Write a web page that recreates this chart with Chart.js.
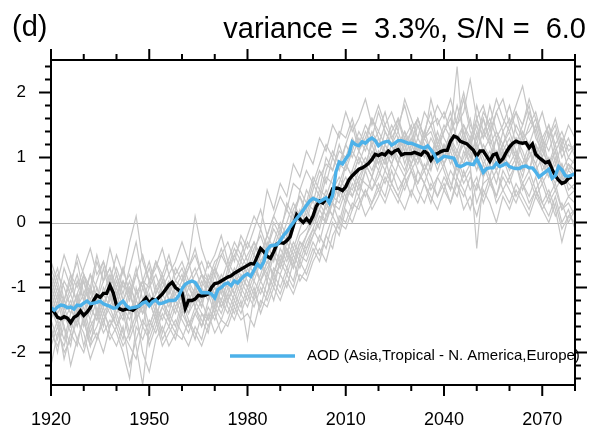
<!DOCTYPE html>
<html>
<head>
<meta charset="utf-8">
<script src="https://cdn.jsdelivr.net/npm/chart.js@4.4.1/dist/chart.umd.min.js"></script>
<style>
html, body { margin: 0; padding: 0; background: #fff; }
#wrap { width: 599px; height: 426px; }
</style>
</head>
<body>
<div id="wrap"><canvas id="chart"></canvas></div>
<script>
// 时间轴：逐年 1920-2080，集合成员每两年一个值
const startYear = 1920;
const endYear = 2080;
const xTickLabels = [1920, 1950, 1980, 2010, 2040, 2070];
const yTickLabels = [-2, -1, 0, 1, 2];

const titleLeft = '(d)';
const titleRight = 'variance =  3.3%, S/N =  6.0';
const legendLabel = 'AOD (Asia,Tropical - N. America,Europe)';

// 黑线（集合平均），1920-2079
const meanLine = [
  -1.32,-1.38,-1.46,-1.48,-1.45,-1.47,-1.54,-1.46,-1.43,-1.36,
  -1.43,-1.38,-1.31,-1.20,-1.12,-1.15,-1.09,-1.09,-0.97,-1.08,
  -1.28,-1.33,-1.35,-1.33,-1.33,-1.35,-1.31,-1.28,-1.22,-1.16,
  -1.24,-1.18,-1.20,-1.15,-1.10,-1.03,-0.96,-0.92,-1.00,-1.04,
  -1.08,-1.32,-1.20,-1.20,-1.18,-1.12,-1.13,-1.12,-1.10,-1.00,
  -0.94,-0.93,-0.90,-0.87,-0.84,-0.82,-0.78,-0.75,-0.72,-0.69,
  -0.66,-0.63,-0.64,-0.52,-0.40,-0.45,-0.52,-0.55,-0.45,-0.33,
  -0.31,-0.32,-0.28,-0.22,-0.05,0.12,0.05,0.00,0.06,0.00,
  0.10,0.25,0.33,0.30,0.36,0.38,0.52,0.53,0.52,0.49,
  0.55,0.66,0.72,0.77,0.82,0.84,0.87,0.91,0.97,1.05,
  1.03,1.06,1.04,1.10,1.06,1.10,1.12,1.04,1.06,1.06,
  1.06,1.08,1.06,1.04,1.10,1.06,0.96,1.04,1.06,1.09,
  1.11,1.11,1.25,1.33,1.31,1.25,1.23,1.21,1.16,1.11,
  1.02,1.10,1.10,1.02,0.94,1.04,1.06,0.93,0.98,1.08,
  1.16,1.22,1.25,1.23,1.22,1.23,1.15,1.21,1.05,1.00,
  0.96,0.92,0.94,0.82,0.72,0.65,0.60,0.62,0.68,0.70
];

// 蓝线（AOD），1920-2080
const aodLine = [
  -1.31,-1.35,-1.30,-1.27,-1.28,-1.31,-1.30,-1.33,-1.27,-1.28,
  -1.24,-1.21,-1.25,-1.24,-1.23,-1.21,-1.25,-1.27,-1.29,-1.32,
  -1.31,-1.25,-1.21,-1.28,-1.32,-1.31,-1.30,-1.28,-1.24,-1.22,
  -1.28,-1.22,-1.19,-1.25,-1.24,-1.22,-1.20,-1.20,-1.19,-1.13,
  -1.02,-0.95,-0.92,-0.90,-0.92,-1.00,-1.08,-1.08,-1.08,-1.10,
  -1.16,-1.03,-1.00,-0.95,-0.93,-0.97,-0.90,-0.93,-0.87,-0.82,
  -0.79,-0.83,-0.73,-0.64,-0.69,-0.60,-0.42,-0.36,-0.35,-0.34,
  -0.28,-0.20,-0.14,-0.07,0.00,0.06,0.12,0.19,0.26,0.33,
  0.37,0.35,0.32,0.35,0.38,0.30,0.42,0.78,0.93,0.90,
  0.98,1.05,1.24,1.20,1.18,1.24,1.22,1.27,1.30,1.26,
  1.18,1.22,1.24,1.25,1.19,1.22,1.26,1.26,1.24,1.22,
  1.22,1.20,1.18,1.16,1.14,1.18,1.12,1.05,0.94,0.98,
  1.02,1.01,1.00,0.99,0.88,0.86,0.88,0.91,0.90,0.89,
  0.98,0.88,0.77,0.83,0.84,0.84,0.91,0.86,0.88,0.91,
  0.86,0.84,0.83,0.83,0.86,0.87,0.84,0.84,0.78,0.70,
  0.74,0.78,0.82,0.68,0.72,0.86,0.81,0.72,0.71,0.73,
  0.75
];

// 灰线（集合成员），1920-2080 每两年
const m01 = [-0.9,-1.2,-0.7,-1.0,-0.5,-0.8,-1.1,-0.6,-0.9,-0.4, -0.8,-1.1,-0.7,-0.3,-0.9,-1.0,-0.6,-0.8,-0.5,-0.9, -1.0,-0.7,-0.4,-0.8,-0.9,-0.6,-0.5,-0.3,-0.6,-0.2, -0.4,-0.1,0.2,-0.2,0.1,0.4,0.2,0.6,0.5,0.8, 0.6,0.9,1.2,1.0,1.4,1.3,1.6,1.2,1.5,1.3, 1.7,1.4,1.2,1.6,1.3,1.5,1.1,1.4,1.7,1.2, 1.5,1.3,1.8,1.4,1.1,1.6,1.3,1.5,1.0,1.4, 1.6,1.2,1.5,1.8,1.3,1.1,1.4,0.9,1.2,0.8, 1.0];
const m02 = [-1.8,-1.5,-2.1,-1.7,-1.9,-1.4,-1.8,-1.6,-1.3,-1.7, -1.9,-1.6,-2.2,-1.8,-1.5,-1.7,-1.4,-1.8,-1.6,-1.3, -1.5,-1.7,-1.4,-1.6,-1.3,-1.5,-1.2,-1.4,-1.1,-1.3, -1.0,-1.2,-0.9,-1.1,-0.7,-0.8,-0.5,-0.7,-0.3,-0.4, -0.2,0.1,0.0,0.3,0.2,0.5,0.4,0.7,0.6,0.5, 0.8,0.6,0.9,0.7,0.5,0.8,0.6,0.9,0.7,0.4, 0.7,0.5,0.9,0.6,0.8,0.3,0.6,0.7,0.4,0.8, 0.6,0.9,0.5,0.7,0.4,0.6,0.3,0.5,0.2,0.4, 0.3];
const m03 = [-1.1,-1.4,-1.2,-0.8,-1.3,-1.5,-1.0,-1.2,-0.7,-1.1, -1.4,-1.2,-0.9,-1.3,-1.6,-1.1,-1.3,-0.9,-1.2,-1.0, -0.8,-1.2,-1.0,-1.3,-0.9,-1.1,-0.8,-1.0,-0.7,-0.9, -0.6,-0.8,-0.5,-0.2,-0.4,-0.1,-0.3,0.1,0.0,0.3, 0.2,0.5,0.4,0.7,0.9,0.8,1.1,0.9,1.2,1.0, 1.3,1.1,0.9,1.2,1.4,1.0,1.3,1.1,0.8,1.2, 1.0,1.3,1.1,0.9,1.2,1.5,1.1,0.9,1.3,1.0, 1.2,0.9,1.3,1.1,0.8,1.0,0.7,0.9,0.6,0.8, 0.7];
const m04 = [-1.5,-1.2,-1.6,-1.9,-1.3,-1.1,-1.4,-1.0,-1.3,-0.9, -1.2,-0.7,-1.1,-1.4,-1.0,-1.3,-1.1,-0.8,-1.2,-1.4, -1.1,-0.9,-1.3,-1.0,-1.2,-0.8,-1.1,-0.7,-0.9,-0.6, -0.8,-0.5,-0.7,-0.3,-0.6,-0.2,-0.5,-0.1,0.2,0.0, 0.4,0.3,0.7,0.6,0.4,0.9,0.7,1.0,0.8,1.3, 1.0,1.4,1.2,0.9,1.3,1.1,1.5,1.2,1.0,1.4, 1.1,1.4,2.4,1.2,1.0,1.3,1.6,1.2,1.4,1.1, 1.3,1.0,1.4,1.2,1.5,1.1,0.9,1.2,0.8,1.0, 0.9];
const m05 = [-2.2,-1.7,-1.9,-1.5,-1.8,-2.0,-1.6,-1.4,-1.7,-1.5, -1.7,-2.0,-2.4,-1.6,-1.8,-1.5,-1.7,-1.4,-1.6,-1.8, -1.4,-1.6,-1.3,-1.5,-1.7,-1.2,-1.4,-1.1,-1.3,-1.0, -1.2,-0.9,-1.1,-0.8,-1.0,-0.6,-0.8,-0.5,-0.7,-0.4, -0.1,-0.3,0.1,0.3,0.0,0.4,0.2,0.6,0.4,0.7, 0.5,0.8,0.6,0.4,0.7,0.9,0.6,0.8,0.5,0.7, 0.9,0.6,0.4,0.8,0.5,0.7,0.3,0.6,0.8,0.5, 0.7,0.4,0.6,0.3,0.5,0.2,0.4,0.1,0.3,0.0, 0.2];
const m06 = [-0.6,-0.9,-0.5,-0.8,-1.0,-0.7,-0.4,-0.8,-0.6,-0.9, -0.5,-0.8,-0.3,0.1,-0.6,-0.9,-0.7,-0.4,-0.8,-0.6, -0.3,-0.6,0.1,-0.4,-0.7,-0.5,-0.2,-0.6,-0.3,-0.5, -0.2,0.1,-0.1,0.5,0.2,0.6,0.4,0.9,0.7,1.1, 0.9,1.3,1.1,1.5,1.3,1.7,1.4,1.6,1.9,1.5, 1.8,1.5,1.7,1.4,1.9,1.6,1.3,1.7,1.5,1.8, 1.6,1.9,1.5,1.7,2.2,1.6,1.8,1.4,1.7,1.9, 1.5,1.8,2.1,1.6,1.4,1.7,1.3,1.6,1.2,1.5, 1.3];
const m07 = [-1.3,-1.6,-1.4,-1.2,-1.5,-1.3,-1.7,-1.4,-1.1,-1.3, -1.0,-1.3,-1.5,-1.2,-1.4,-1.1,-1.4,-1.2,-1.5,-1.2, -1.4,-1.1,-1.3,-1.6,-1.2,-1.0,-1.3,-1.1,-0.8,-1.0, -0.7,-0.9,-0.6,-0.8,-0.4,-0.6,-0.2,-0.4,-0.1,0.2, 0.0,0.2,0.5,0.3,0.6,0.9,0.7,1.0,0.8,1.1, 0.9,1.2,1.0,1.3,1.1,0.8,1.0,1.3,1.1,0.9, 1.2,1.0,0.7,1.1,0.9,1.2,1.0,0.7,1.1,0.9, 1.1,1.3,1.0,0.8,1.1,0.9,0.7,1.0,0.6,0.9, 0.8];
const m08 = [-0.8,-1.1,-1.3,-1.0,-1.2,-0.9,-1.3,-1.1,-1.4,-1.2, -0.9,-1.2,-1.0,-1.5,-1.3,-1.0,-0.8,-1.1,-0.9,-1.2, -1.0,-1.3,-1.1,-0.8,-1.0,-1.3,-0.9,-1.2,-1.0,-0.7, -0.9,-1.1,-0.8,-0.5,-0.9,-0.6,-0.4,-0.7,-0.4,-0.2, 0.1,-0.1,0.3,0.1,0.5,0.3,0.8,0.6,0.9,0.7, 1.0,0.8,1.1,0.9,1.2,0.9,1.1,0.8,1.0,1.2, 0.9,1.1,0.8,1.0,1.3,0.9,0.7,1.0,0.8,1.1, 0.8,1.0,0.7,1.1,0.9,0.6,0.8,0.5,0.7,0.4, 0.5];
const m09 = [-1.6,-2.0,-1.4,-1.7,-1.2,-1.5,-1.9,-1.3,-1.6,-1.1, -1.5,-1.8,-1.3,-1.9,-2.5,-1.6,-1.3,-1.7,-1.4,-1.6, -1.2,-1.5,-1.8,-1.4,-1.6,-1.3,-1.5,-1.2,-1.4,-1.1, -1.3,-1.0,-1.4,-1.1,-0.8,-1.0,-0.7,-0.9,-0.5,-0.6, -0.3,-0.5,-0.2,0.1,-0.1,0.3,0.6,0.4,0.8,0.5, 0.7,1.0,0.6,0.9,0.7,1.1,0.8,0.6,0.9,1.1, 0.8,0.5,1.0,0.7,0.9,-0.4,0.7,0.9,0.6,1.0, 0.7,0.9,0.6,0.8,0.5,0.7,0.4,0.6,0.2,0.3, 0.1];
const m10 = [-1.0,-0.7,-1.2,-1.4,-1.1,-0.8,-1.0,-0.5,-0.9,-0.7, -1.1,-0.9,-1.2,-0.8,-1.0,-0.7,-1.1,-0.9,-0.6,-0.8, -0.6,-0.9,-0.7,-1.0,-0.6,-0.8,-0.5,-0.7,-0.4,-0.6, -0.3,-0.5,-0.1,-0.4,0.0,-0.2,0.3,0.1,0.4,0.2, 0.6,0.4,0.8,1.1,0.9,1.2,1.0,1.3,1.1,1.4, 1.2,1.5,1.3,1.1,1.4,1.2,1.6,1.3,1.4,1.1, 1.4,1.6,1.3,1.5,1.2,1.8,1.4,1.6,1.3,1.5, 1.8,1.4,1.2,1.5,1.7,1.3,1.1,1.4,1.0,1.2, 1.1];
const m11 = [-1.4,-1.1,-1.5,-1.3,-1.6,-1.2,-1.5,-1.8,-1.4,-1.6, -1.3,-1.5,-1.1,-1.4,-1.2,-1.6,-1.3,-1.5,-1.2,-1.1, -1.3,-1.0,-1.2,-0.9,-1.1,-1.4,-1.0,-1.2,-0.9,-1.1, -0.8,-0.6,-0.9,-0.7,-0.5,-0.7,-0.3,-0.5,-0.2,-0.1, 0.1,0.4,0.2,0.5,0.7,0.5,0.8,1.1,0.9,0.7, 1.1,0.9,1.2,1.0,0.8,1.1,0.9,1.2,1.0,1.3, 1.0,1.2,0.9,1.3,1.1,0.8,1.2,1.0,1.3,0.9, 1.2,1.0,0.8,1.1,0.9,1.2,0.8,0.6,0.9,0.5, 0.6];
const m12 = [-1.2,-1.5,-1.8,-1.4,-1.1,-1.6,-1.3,-1.5,-1.2,-1.4, -1.6,-1.3,-1.7,-1.0,-1.4,-1.2,-1.5,-1.3,-1.0,-1.3, -1.1,-1.4,-1.2,-1.4,-1.5,-1.1,-1.2,-0.9,-1.1,-0.8, -1.0,-0.7,-0.9,-0.6,-0.8,-0.4,-0.6,-0.3,-0.5,-0.2, 0.0,0.3,0.1,0.4,0.6,0.4,0.7,0.5,0.8,1.0, 0.8,1.1,0.9,1.2,1.0,1.3,1.0,0.8,1.1,0.9, 1.2,0.9,1.1,1.4,1.0,1.2,0.9,1.1,0.8,1.0, 0.9,1.1,0.8,1.0,1.2,0.8,1.0,0.7,0.9,0.6, 0.5];
const m13 = [-1.1,-0.8,-1.0,-1.3,-0.9,-1.2,-0.8,-1.0,-1.3,-1.0, -0.7,-1.0,-0.8,-1.1,-0.9,-0.6,-1.0,-0.8,-1.1,-0.9, -0.7,-1.0,-0.8,-0.6,-0.9,-0.7,-1.0,-0.8,-0.5,-0.7, -0.5,-0.3,-0.6,-0.4,-0.1,-0.3,0.0,0.3,0.1,0.5, 0.3,0.7,0.9,0.8,1.1,1.0,1.3,1.1,1.4,1.2, 1.4,1.2,1.5,1.3,1.1,1.4,1.6,1.3,1.5,1.2, 1.4,1.7,1.2,1.5,1.3,1.6,1.3,1.8,1.4,1.2, 1.5,1.7,1.3,1.4,1.6,1.2,1.5,1.1,1.3,1.0, 1.2];
const m14 = [-1.7,-1.9,-1.6,-2.2,-1.8,-1.5,-1.9,-1.7,-2.0,-1.6, -1.4,-1.7,-1.9,-2.1,-1.6,-1.8,-1.5,-1.9,-1.7,-1.5, -1.7,-1.9,-1.6,-1.8,-1.4,-1.7,-1.5,-1.6,-1.3,-1.5, -1.4,-1.6,-1.2,-1.3,-1.0,-1.2,-0.9,-1.1,-0.8,-0.9, -0.6,-0.4,-0.6,-0.2,0.0,-0.1,0.2,0.4,0.1,0.3, 0.5,0.3,0.6,0.4,0.2,0.5,0.3,0.6,0.4,0.2, 0.5,0.3,0.6,0.2,0.4,0.1,0.5,0.3,0.0,0.4, 0.2,0.5,0.3,0.1,0.4,0.2,0.0,0.3,-0.1,0.1, 0.0];
const m15 = [-1.0,-1.3,-0.9,-1.1,-1.4,-0.8,-1.2,-0.9,-0.6,-1.0, -1.3,-0.9,-1.1,-0.7,-1.2,-0.9,-1.3,-1.0,-0.8,-1.1, -0.9,-0.6,-1.0,-0.8,-1.1,-0.7,-0.9,-0.6,-0.8,-0.5, -0.7,-0.4,-0.2,-0.5,-0.3,0.0,-0.2,0.2,0.4,0.1, 0.5,0.8,0.6,1.0,0.8,1.2,1.5,1.1,1.3,1.6, 1.3,1.0,1.4,1.6,1.2,1.4,1.0,1.3,1.5,1.6, 1.3,1.1,1.5,1.9,1.4,1.2,1.6,1.3,1.7,1.4, 1.1,1.5,1.3,1.7,1.4,1.0,1.3,1.5,1.1,1.3, 1.0];
const m16 = [-1.5,-1.8,-1.3,-1.6,-1.4,-1.9,-1.5,-1.2,-1.5,-1.3, -1.6,-1.4,-1.8,-1.5,-1.2,-1.9,-1.6,-1.3,-1.5,-1.7, -1.3,-1.6,-1.4,-1.2,-1.5,-1.3,-1.0,-1.3,-1.5,-1.2, -1.8,-1.1,-1.3,-0.9,-1.2,-0.8,-1.0,-0.6,-0.9,-0.7, -0.4,-0.6,-0.2,-0.4,0.1,0.0,0.3,0.2,0.5,0.3, 0.6,0.4,0.8,0.5,0.7,0.4,0.8,0.6,0.3,0.7, 0.5,0.8,0.6,0.4,0.7,0.5,0.9,0.6,0.4,0.7, 0.5,0.3,0.6,0.4,0.7,0.3,0.5,0.2,-0.3,0.1, 0.2];
const m17 = [-1.2,-0.9,-1.3,-1.1,-0.8,-1.2,-1.0,-1.4,-1.1,-0.8, -1.1,-1.4,-1.0,-1.2,-0.9,-1.3,-1.0,-1.2,-1.4,-1.0, -1.2,-0.9,-1.1,-1.3,-0.8,-1.0,-1.2,-0.9,-1.1,-0.8, -1.0,-0.7,-0.9,-0.6,-0.8,-0.5,-0.7,-0.4,-0.6,-0.3, -0.1,0.2,0.0,0.4,0.3,0.6,0.5,0.8,1.0,0.8, 1.1,0.9,1.2,1.4,1.1,0.9,1.2,1.0,1.3,1.1, 0.9,1.2,1.0,1.3,1.6,1.1,1.4,1.2,0.9,1.2, 1.4,1.1,0.9,1.2,1.0,1.3,0.9,1.1,0.7,0.9, 0.8];
const m18 = [-0.7,-1.0,-1.2,-0.9,-0.6,-1.1,-0.8,-1.2,-0.9,-0.7, -1.0,-0.7,-1.1,-0.8,-0.5,-0.9,-0.6,-0.9,-1.1,-0.7, -0.9,-0.7,-0.5,-0.8,-1.0,-0.7,-0.4,-0.7,-0.5,-0.3, -0.6,-0.3,-0.5,-0.2,0.1,-0.1,0.2,0.0,0.5,0.3, 0.7,0.5,1.0,0.8,1.2,0.9,1.1,1.4,1.2,1.6, 1.4,1.7,1.3,1.5,1.8,1.4,1.6,1.3,1.9,1.5, 1.7,1.4,1.6,2.0,1.5,1.3,1.7,1.5,1.9,1.6, 1.4,1.7,1.5,1.9,1.6,1.3,1.5,1.2,1.4,1.1, 1.2];
const m19 = [-1.9,-1.6,-2.0,-1.8,-1.5,-1.7,-2.1,-1.8,-1.5,-1.8, -1.6,-1.9,-1.7,-1.4,-2.0,-2.3,-1.8,-1.6,-1.9,-1.7, -1.8,-1.5,-1.7,-1.9,-1.6,-1.4,-1.7,-1.5,-1.2,-1.4, -1.1,-1.3,-1.0,-1.2,-0.9,-1.1,-0.8,-1.0,-0.6,-0.8, -0.5,-0.2,-0.4,0.0,-0.2,0.2,0.0,0.3,0.5,0.2, 0.4,0.7,0.5,0.3,0.6,0.8,0.5,0.3,0.6,0.4, 0.6,0.3,0.7,0.5,0.2,0.6,0.4,0.7,0.3,0.5, 0.3,0.6,0.4,0.2,0.5,0.3,0.1,0.4,0.0,0.2, -0.1];
const m20 = [-1.3,-1.0,-1.4,-1.6,-1.2,-0.9,-1.3,-1.5,-1.0,-1.2, -0.8,-1.2,-1.4,-1.1,-0.9,-1.2,-1.5,-1.1,-1.3,-1.0, -1.2,-1.4,-1.0,-1.2,-0.9,-1.1,-1.3,-1.0,-1.2,-0.9, -1.1,-0.8,-0.6,-0.9,-0.5,-0.7,-0.4,-0.6,-0.3,-0.5, -0.2,0.0,0.3,0.1,0.5,0.7,0.4,0.7,0.9,1.2, 0.9,1.2,1.0,1.3,0.9,1.2,1.0,1.4,1.1,0.8, 1.1,1.3,1.0,1.2,0.9,1.4,1.1,1.3,1.0,1.2, 1.0,1.3,1.1,0.8,1.2,1.0,0.8,1.1,0.7,0.9, 0.7];

const members = [m01, m02, m03, m04, m05, m06, m07, m08, m09, m10,
                 m11, m12, m13, m14, m15, m16, m17, m18, m19, m20];

const FONT = "'Liberation Sans', Arial, Helvetica, sans-serif";
const BLUE = '#4cb1e9';

// 数组 -> {x, y} 点
function toPoints(values, step) {
    return values.map((v, i) => ({ x: startYear + i * step, y: v }));
}

// order 越小越靠上：蓝线最上，黑线其次，灰线在底
const datasets = members.map(m => ({
    data: toPoints(m, 2),
    borderColor: '#c6c6c6',
    borderWidth: 1.2,
    pointRadius: 0,
    tension: 0,
    order: 2
}));
datasets.push({
    data: toPoints(meanLine, 1),
    borderColor: '#000000',
    borderWidth: 3.4,
    pointRadius: 0,
    tension: 0,
    order: 1
});
datasets.push({
    data: toPoints(aodLine, 1),
    borderColor: BLUE,
    borderWidth: 3.4,
    pointRadius: 0,
    tension: 0,
    order: 0
});

// 边框、刻度线、零线、标题、图例
const decor = {
    id: 'decor',
    beforeDatasetsDraw(chart) {
        const { ctx, chartArea: a, scales: { y } } = chart;
        const y0 = Math.round(y.getPixelForValue(0)) + 0.5;
        ctx.save();
        ctx.strokeStyle = '#b0b0b0';
        ctx.lineWidth = 1;
        ctx.beginPath();
        ctx.moveTo(a.left, y0);
        ctx.lineTo(a.right, y0);
        ctx.stroke();
        ctx.restore();
    },
    afterDatasetsDraw(chart) {
        const { ctx, chartArea: a, scales: { x, y } } = chart;
        ctx.save();
        ctx.strokeStyle = '#000';
        ctx.lineWidth = 2;
        ctx.strokeRect(a.left, a.top, a.right - a.left, a.bottom - a.top);

        ctx.beginPath();
        for (let yr = startYear; yr <= endYear; yr += 10) {
            const px = x.getPixelForValue(yr);
            const len = xTickLabels.includes(yr) ? 11 : 6;
            ctx.moveTo(px, a.bottom); ctx.lineTo(px, a.bottom + len);
            ctx.moveTo(px, a.top); ctx.lineTo(px, a.top - len);
        }
        for (let k = -12; k <= 12; k++) {
            const py = y.getPixelForValue(k / 5);
            const len = k % 5 === 0 ? 12 : 6;
            ctx.moveTo(a.left, py); ctx.lineTo(a.left - len, py);
            ctx.moveTo(a.right, py); ctx.lineTo(a.right + len, py);
        }
        ctx.stroke();

        // 标题
        ctx.fillStyle = '#000';
        ctx.textBaseline = 'alphabetic';
        ctx.font = '29px ' + FONT;
        ctx.textAlign = 'left';
        ctx.fillText(titleLeft, 12, 36);
        ctx.font = '29px ' + FONT;
        ctx.textAlign = 'right';
        ctx.fillText(titleRight, 586, 38);

        // 图例
        ctx.strokeStyle = BLUE;
        ctx.lineWidth = 3.4;
        ctx.beginPath();
        ctx.moveTo(230, 356);
        ctx.lineTo(295, 356);
        ctx.stroke();
        ctx.font = '15px ' + FONT;
        ctx.textAlign = 'left';
        ctx.textBaseline = 'middle';
        ctx.fillText(legendLabel, 307, 356);
        ctx.restore();
    }
};

new Chart(document.getElementById('chart'), {
    type: 'line',
    data: { datasets },
    options: {
        responsive: true,
        maintainAspectRatio: false,
        devicePixelRatio: 1,
        animation: false,
        events: [],
        layout: { padding: { top: 60, right: 5, left: 0, bottom: 0 } },
        plugins: { legend: { display: false }, tooltip: { enabled: false } },
        scales: {
            x: {
                type: 'linear',
                min: startYear,
                max: endYear,
                grid: { display: false, drawTicks: false },
                border: { display: false },
                ticks: {
                    stepSize: 10,
                    autoSkip: false,
                    maxRotation: 0,
                    padding: 24,
                    color: '#000',
                    font: { family: FONT, size: 18 },
                    callback: v => xTickLabels.includes(v) ? String(v) : ''
                },
                afterFit: s => { s.height = 41; }
            },
            y: {
                min: -2.5,
                max: 2.5,
                grid: { display: false, drawTicks: false },
                border: { display: false },
                ticks: {
                    stepSize: 0.5,
                    autoSkip: false,
                    padding: 25,
                    color: '#000',
                    font: { family: FONT, size: 17 },
                    callback: v => yTickLabels.includes(v) ? String(v) : ''
                },
                afterFit: s => { s.width = 51; }
            }
        }
    },
    plugins: [decor]
});
</script>
</body>
</html>
